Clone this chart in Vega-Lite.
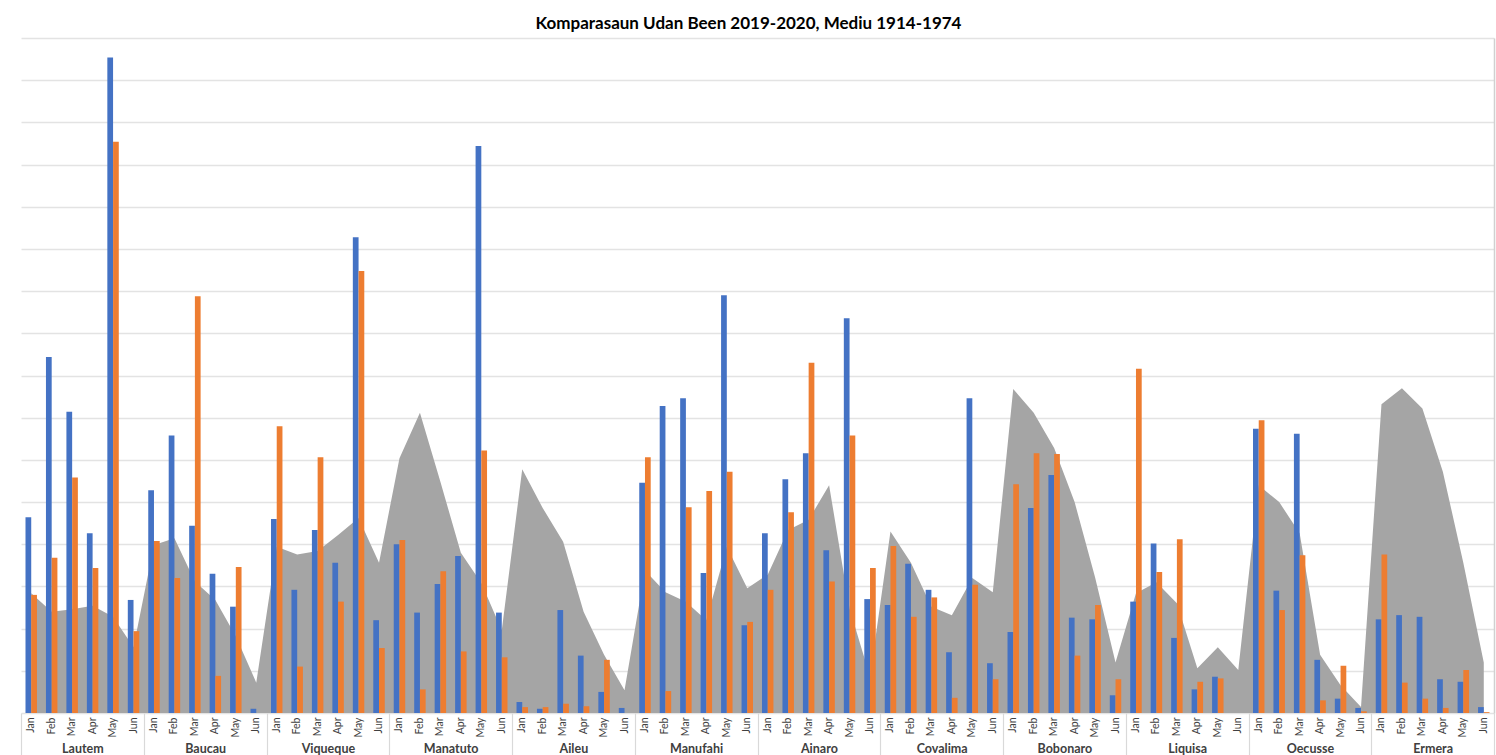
{
  "$schema": "https://vega.github.io/schema/vega-lite/v6.json",
  "width": 1473,
  "height": 675,
  "autosize": {"type": "none"},
  "padding": {"left": 21, "top": 38, "right": 2, "bottom": 42},
  "background": "white",
  "title": {
    "text": "Komparasaun Udan Been 2019-2020, Mediu 1914-1974",
    "font": "Lato",
    "fontSize": 17,
    "fontWeight": "bold",
    "color": "#000000",
    "anchor": "middle",
    "baseline": "alphabetic",
    "offset": 11,
    "dy": 19,
    "dx": -9
  },
  "config": {
    "view": {"stroke": null},
    "axis": {"labelFont": "Lato", "titleFont": "Lato"}
  },
  "data": {
    "values": [
      {"d": "Lautem", "k": "Lautem Jan", "y2019": 232, "y2020": 140, "avg": 142},
      {"d": "Lautem", "k": "Lautem Feb", "y2019": 422, "y2020": 184, "avg": 120},
      {"d": "Lautem", "k": "Lautem Mar", "y2019": 357, "y2020": 279, "avg": 123},
      {"d": "Lautem", "k": "Lautem Apr", "y2019": 213, "y2020": 172, "avg": 127},
      {"d": "Lautem", "k": "Lautem May", "y2019": 777, "y2020": 677, "avg": 114},
      {"d": "Lautem", "k": "Lautem Jun", "y2019": 134, "y2020": 97, "avg": 78},
      {"d": "Baucau", "k": "Baucau Jan", "y2019": 264, "y2020": 204, "avg": 199},
      {"d": "Baucau", "k": "Baucau Feb", "y2019": 329, "y2020": 160, "avg": 207},
      {"d": "Baucau", "k": "Baucau Mar", "y2019": 222, "y2020": 494, "avg": 156},
      {"d": "Baucau", "k": "Baucau Apr", "y2019": 165, "y2020": 44, "avg": 134},
      {"d": "Baucau", "k": "Baucau May", "y2019": 126, "y2020": 173, "avg": 91},
      {"d": "Baucau", "k": "Baucau Jun", "y2019": 5, "y2020": 0, "avg": 36},
      {"d": "Viqueque", "k": "Viqueque Jan", "y2019": 230, "y2020": 340, "avg": 197},
      {"d": "Viqueque", "k": "Viqueque Feb", "y2019": 146, "y2020": 55, "avg": 188},
      {"d": "Viqueque", "k": "Viqueque Mar", "y2019": 217, "y2020": 303, "avg": 192},
      {"d": "Viqueque", "k": "Viqueque Apr", "y2019": 178, "y2020": 132, "avg": 211},
      {"d": "Viqueque", "k": "Viqueque May", "y2019": 564, "y2020": 524, "avg": 231},
      {"d": "Viqueque", "k": "Viqueque Jun", "y2019": 110, "y2020": 77, "avg": 178},
      {"d": "Manatuto", "k": "Manatuto Jan", "y2019": 200, "y2020": 205, "avg": 302},
      {"d": "Manatuto", "k": "Manatuto Feb", "y2019": 119, "y2020": 28, "avg": 356},
      {"d": "Manatuto", "k": "Manatuto Mar", "y2019": 153, "y2020": 168, "avg": 274},
      {"d": "Manatuto", "k": "Manatuto Apr", "y2019": 186, "y2020": 73, "avg": 190},
      {"d": "Manatuto", "k": "Manatuto May", "y2019": 672, "y2020": 311, "avg": 154},
      {"d": "Manatuto", "k": "Manatuto Jun", "y2019": 119, "y2020": 66, "avg": 98},
      {"d": "Aileu", "k": "Aileu Jan", "y2019": 13, "y2020": 7, "avg": 289},
      {"d": "Aileu", "k": "Aileu Feb", "y2019": 5, "y2020": 7, "avg": 243},
      {"d": "Aileu", "k": "Aileu Mar", "y2019": 122, "y2020": 11, "avg": 203},
      {"d": "Aileu", "k": "Aileu Apr", "y2019": 68, "y2020": 8, "avg": 120},
      {"d": "Aileu", "k": "Aileu May", "y2019": 25, "y2020": 63, "avg": 69},
      {"d": "Aileu", "k": "Aileu Jun", "y2019": 6, "y2020": 0, "avg": 27},
      {"d": "Manufahi", "k": "Manufahi Jan", "y2019": 273, "y2020": 303, "avg": 169},
      {"d": "Manufahi", "k": "Manufahi Feb", "y2019": 364, "y2020": 26, "avg": 143},
      {"d": "Manufahi", "k": "Manufahi Mar", "y2019": 373, "y2020": 244, "avg": 132},
      {"d": "Manufahi", "k": "Manufahi Apr", "y2019": 166, "y2020": 263, "avg": 110},
      {"d": "Manufahi", "k": "Manufahi May", "y2019": 495, "y2020": 286, "avg": 197},
      {"d": "Manufahi", "k": "Manufahi Jun", "y2019": 104, "y2020": 108, "avg": 148},
      {"d": "Ainaro", "k": "Ainaro Jan", "y2019": 213, "y2020": 146, "avg": 164},
      {"d": "Ainaro", "k": "Ainaro Feb", "y2019": 277, "y2020": 238, "avg": 217},
      {"d": "Ainaro", "k": "Ainaro Mar", "y2019": 308, "y2020": 415, "avg": 229},
      {"d": "Ainaro", "k": "Ainaro Apr", "y2019": 193, "y2020": 156, "avg": 270},
      {"d": "Ainaro", "k": "Ainaro May", "y2019": 468, "y2020": 329, "avg": 124},
      {"d": "Ainaro", "k": "Ainaro Jun", "y2019": 135, "y2020": 172, "avg": 43},
      {"d": "Covalima", "k": "Covalima Jan", "y2019": 128, "y2020": 198, "avg": 215},
      {"d": "Covalima", "k": "Covalima Feb", "y2019": 177, "y2020": 114, "avg": 178},
      {"d": "Covalima", "k": "Covalima Mar", "y2019": 146, "y2020": 137, "avg": 126},
      {"d": "Covalima", "k": "Covalima Apr", "y2019": 72, "y2020": 18, "avg": 116},
      {"d": "Covalima", "k": "Covalima May", "y2019": 373, "y2020": 152, "avg": 160},
      {"d": "Covalima", "k": "Covalima Jun", "y2019": 59, "y2020": 40, "avg": 143},
      {"d": "Bobonaro", "k": "Bobonaro Jan", "y2019": 96, "y2020": 271, "avg": 384},
      {"d": "Bobonaro", "k": "Bobonaro Feb", "y2019": 243, "y2020": 308, "avg": 356},
      {"d": "Bobonaro", "k": "Bobonaro Mar", "y2019": 282, "y2020": 307, "avg": 314},
      {"d": "Bobonaro", "k": "Bobonaro Apr", "y2019": 113, "y2020": 68, "avg": 250},
      {"d": "Bobonaro", "k": "Bobonaro May", "y2019": 111, "y2020": 128, "avg": 161},
      {"d": "Bobonaro", "k": "Bobonaro Jun", "y2019": 21, "y2020": 40, "avg": 60},
      {"d": "Liquisa", "k": "Liquisa Jan", "y2019": 132, "y2020": 408, "avg": 142},
      {"d": "Liquisa", "k": "Liquisa Feb", "y2019": 201, "y2020": 167, "avg": 155},
      {"d": "Liquisa", "k": "Liquisa Mar", "y2019": 89, "y2020": 206, "avg": 130},
      {"d": "Liquisa", "k": "Liquisa Apr", "y2019": 28, "y2020": 37, "avg": 53},
      {"d": "Liquisa", "k": "Liquisa May", "y2019": 43, "y2020": 41, "avg": 78},
      {"d": "Liquisa", "k": "Liquisa Jun", "y2019": 0, "y2020": 0, "avg": 51},
      {"d": "Oecusse", "k": "Oecusse Jan", "y2019": 337, "y2020": 347, "avg": 270},
      {"d": "Oecusse", "k": "Oecusse Feb", "y2019": 145, "y2020": 122, "avg": 250},
      {"d": "Oecusse", "k": "Oecusse Mar", "y2019": 331, "y2020": 187, "avg": 213},
      {"d": "Oecusse", "k": "Oecusse Apr", "y2019": 63, "y2020": 15, "avg": 69},
      {"d": "Oecusse", "k": "Oecusse May", "y2019": 17, "y2020": 56, "avg": 33},
      {"d": "Oecusse", "k": "Oecusse Jun", "y2019": 6, "y2020": 2, "avg": 7},
      {"d": "Ermera", "k": "Ermera Jan", "y2019": 111, "y2020": 188, "avg": 366},
      {"d": "Ermera", "k": "Ermera Feb", "y2019": 116, "y2020": 36, "avg": 385},
      {"d": "Ermera", "k": "Ermera Mar", "y2019": 114, "y2020": 17, "avg": 361},
      {"d": "Ermera", "k": "Ermera Apr", "y2019": 40, "y2020": 6, "avg": 286},
      {"d": "Ermera", "k": "Ermera May", "y2019": 37, "y2020": 51, "avg": 178},
      {"d": "Ermera", "k": "Ermera Jun", "y2019": 7, "y2020": 1, "avg": 60}
    ]
  },
  "layer": [
    {
      "layer": [
        {
          "mark": {"type": "area", "color": "#A5A5A5", "opacity": 1},
          "encoding": {
            "x": {
              "field": "k", "type": "nominal", "sort": null,
              "scale": {"type": "band", "paddingInner": 0.44, "paddingOuter": 0.22},
              "axis": {
                "orient": "bottom", "title": null, "labelAngle": -90,
                "labelExpr": "split(datum.label, ' ')[1]",
                "labelFontSize": 10.5, "labelColor": "#404040", "labelPadding": 4,
                "ticks": false, "domain": false, "grid": false
              }
            },
            "y": {
              "field": "avg", "type": "quantitative",
              "scale": {"domain": [0, 800], "nice": false},
              "axis": {
                "orient": "right", "title": null, "labels": false, "ticks": false,
                "domain": true, "domainColor": "#d0d0d0", "domainWidth": 1.5,
                "grid": true, "gridColor": "#e3e3e3", "gridWidth": 1.3,
                "values": [0, 50, 100, 150, 200, 250, 300, 350, 400, 450, 500, 550, 600, 650, 700, 750, 800]
              }
            }
          }
        },
        {
          "transform": [{"fold": ["y2019", "y2020"], "as": ["serie", "val"]}],
          "mark": {"type": "bar"},
          "encoding": {
            "x": {
              "field": "k", "type": "nominal", "sort": null,
              "scale": {"type": "band", "paddingInner": 0.44, "paddingOuter": 0.22},
              "axis": {
                "orient": "bottom", "title": null, "labelAngle": -90,
                "labelExpr": "split(datum.label, ' ')[1]",
                "labelFontSize": 10.5, "labelColor": "#404040", "labelPadding": 4,
                "ticks": false, "domain": false, "grid": false
              }
            },
            "xOffset": {"field": "serie", "type": "nominal", "sort": ["y2019", "y2020"]},
            "y": {"field": "val", "type": "quantitative"},
            "color": {
              "field": "serie", "type": "nominal",
              "scale": {"domain": ["y2019", "y2020"], "range": ["#4472C4", "#ED7D31"]},
              "legend": null
            }
          }
        }
      ]
    },
    {
      "mark": {"type": "rule", "opacity": 0},
      "encoding": {
        "x": {
          "field": "d", "type": "nominal", "sort": null,
          "scale": {"type": "band", "paddingInner": 0, "paddingOuter": 0},
          "axis": {
            "orient": "bottom", "title": null, "labelAngle": 0,
            "labelFont": "Lato", "labelFontSize": 12.5, "labelFontWeight": "bold",
            "labelColor": "#404040", "labelPadding": -7, "labelBaseline": "middle",
            "tickBand": "extent", "tickSize": 42, "tickColor": "#d9d9d9", "tickWidth": 1.2,
            "domain": false, "grid": false, "offset": 0
          }
        }
      }
    }
  ],
  "resolve": {"scale": {"x": "independent"}, "axis": {"x": "independent"}}
}
